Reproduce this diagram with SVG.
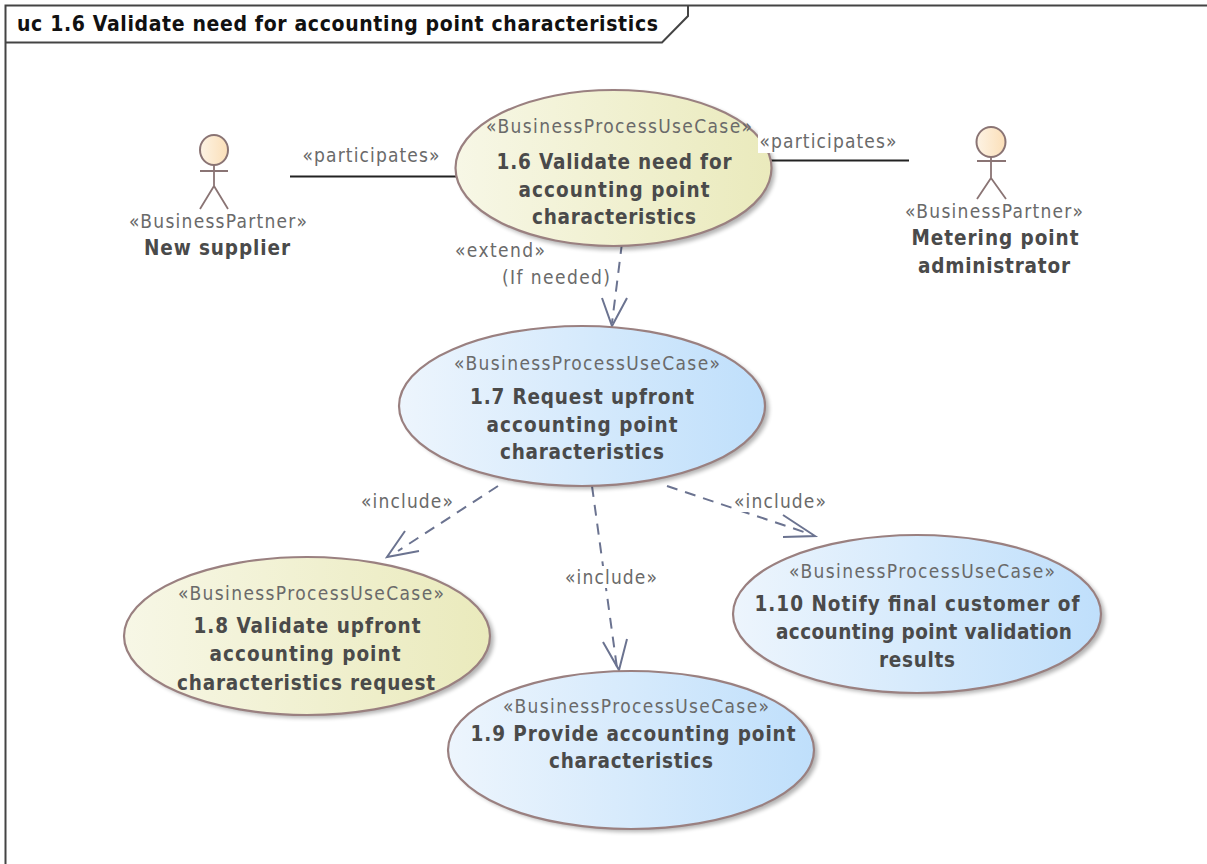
<svg xmlns="http://www.w3.org/2000/svg" width="1207" height="864" viewBox="0 0 1207 864">
<style>
text{font-family:"DejaVu Sans Condensed","DejaVu Sans",sans-serif;text-anchor:middle}
.s{font-size:19px;fill:#6a6a6a}
.b{font-size:20.500px;font-weight:bold;fill:#4a4a4a}
.l{font-size:19px;fill:#6a6a6a}
.t{font-size:21px;font-weight:bold;fill:#111;text-anchor:start}
.e{stroke:#9a8080;stroke-width:2.200}
.sh{fill:#000;opacity:.3;filter:url(#blur)}
.a{fill:none;stroke:#6b7390;stroke-width:2}
.d{stroke-dasharray:11 8}
.p{stroke:#222;stroke-width:2;fill:none}
.act{fill:none;stroke:#8a7474;stroke-width:1.800}
.f{fill:none;stroke:#444;stroke-width:2}
</style>
<defs>
<filter id="blur" x="-10%" y="-10%" width="120%" height="120%"><feGaussianBlur stdDeviation="2"/></filter>
<linearGradient id="y"><stop offset="0" stop-color="#f7f7e6"/><stop offset="1" stop-color="#eaeabc"/></linearGradient>
<linearGradient id="bl"><stop offset="0" stop-color="#edf5fd"/><stop offset="1" stop-color="#bfdffb"/></linearGradient>
<linearGradient id="o"><stop offset="0" stop-color="#fdf3e4"/><stop offset="1" stop-color="#fbdfb8"/></linearGradient>
</defs>
<rect width="1207" height="864" fill="#fff"/>
<g id="frame">
<path class="f" d="M5.500 864V5.500H1207"/>
<path class="f" d="M5.500 42.500H662L688 16V5.500"/>
<text class="t" x="17" y="31" textLength="641">uc 1.6 Validate need for accounting point characteristics</text>
</g>
<g id="connectors">
<path class="p" d="M290 176.500H458"/>
<path class="p" d="M771 160.500H909"/>
<path class="a d" d="M622 243L612 323"/>
<path class="a" d="M602 298L612 326L627 298"/>
<path class="a d" d="M498 486L398 551"/>
<path class="a" d="M405 531L387 557L419 551"/>
<path class="a d" d="M592 486L617 668"/>
<path class="a" d="M603 642L619 670L627 639"/>
<path class="a d" d="M667 486L810 534"/>
<path class="a" d="M783 515L815 536L783 537"/>
<rect x="733" y="490" width="94" height="22" fill="#fff"/>
<rect x="564" y="566" width="94" height="22" fill="#fff"/>
</g>
<g id="uc16">
<ellipse class="sh" cx="617" cy="171" rx="158" ry="79"/>
<ellipse class="e" cx="613.500" cy="168" rx="158" ry="78" fill="url(#y)"/>
<text class="s" x="619" y="133" textLength="266">«BusinessProcessUseCase»</text>
<text class="b" x="614" y="169" textLength="235">1.6 Validate need for</text>
<text class="b" x="614" y="197" textLength="191">accounting point</text>
<text class="b" x="614" y="224" textLength="164">characteristics</text>
</g>
<g id="actor-new-supplier">
<ellipse cx="214" cy="150" rx="14" ry="15" fill="url(#o)" stroke="#8a7474" stroke-width="2"/>
<path class="act" d="M214 165V186M200 171H228M214 186L200 209M214 186L228 209"/>
<text class="s" x="218" y="228" textLength="178">«BusinessPartner»</text>
<text class="b" x="217" y="255" textLength="146">New supplier</text>
</g>
<g id="actor-metering">
<ellipse cx="991" cy="142" rx="14.500" ry="15" fill="url(#o)" stroke="#8a7474" stroke-width="2"/>
<path class="act" d="M991 157V178M977 161H1006M991 178L977 199M991 178L1006 199"/>
<text class="s" x="994" y="218" textLength="178">«BusinessPartner»</text>
<text class="b" x="995" y="245" textLength="167">Metering point</text>
<text class="b" x="994" y="273" textLength="152">administrator</text>
</g>
<g id="uc17">
<ellipse class="sh" cx="586" cy="409" rx="183" ry="80"/>
<ellipse class="e" cx="582" cy="406" rx="183" ry="80" fill="url(#bl)"/>
<text class="s" x="587" y="370" textLength="266">«BusinessProcessUseCase»</text>
<text class="b" x="582" y="404" textLength="224">1.7 Request upfront</text>
<text class="b" x="582" y="432" textLength="191">accounting point</text>
<text class="b" x="582" y="459" textLength="164">characteristics</text>
</g>
<g id="uc18">
<ellipse class="sh" cx="311" cy="639" rx="183" ry="79"/>
<ellipse class="e" cx="307" cy="636" rx="183" ry="79" fill="url(#y)"/>
<text class="s" x="311" y="600" textLength="266">«BusinessProcessUseCase»</text>
<text class="b" x="307" y="633" textLength="227">1.8 Validate upfront</text>
<text class="b" x="305" y="661" textLength="191">accounting point</text>
<text class="b" x="306" y="690" textLength="258">characteristics request</text>
</g>
<g id="uc19">
<ellipse class="sh" cx="635" cy="753" rx="183" ry="79"/>
<ellipse class="e" cx="631" cy="750" rx="183" ry="79" fill="url(#bl)"/>
<text class="s" x="636" y="713" textLength="266">«BusinessProcessUseCase»</text>
<text class="b" x="633" y="741" textLength="325">1.9 Provide accounting point</text>
<text class="b" x="631" y="768" textLength="164">characteristics</text>
</g>
<g id="uc110">
<ellipse class="sh" cx="921" cy="617" rx="184" ry="79"/>
<ellipse class="e" cx="917" cy="614" rx="184" ry="79" fill="url(#bl)"/>
<text class="s" x="922" y="578" textLength="266">«BusinessProcessUseCase»</text>
<text class="b" x="917" y="611" textLength="325">1.10 Notify final customer of</text>
<text class="b" x="924" y="639" textLength="296">accounting point validation</text>
<text class="b" x="917" y="667" textLength="76">results</text>
</g>
<g id="labels">
<rect x="758" y="130" width="141" height="23" fill="#fff"/>
<text class="l" x="371" y="162" textLength="137">«participates»</text>
<text class="l" x="828" y="148" textLength="137">«participates»</text>
<text class="l" x="500" y="257" textLength="90">«extend»</text>
<text class="l" x="556" y="284" textLength="108">(If needed)</text>
<text class="l" x="407" y="508" textLength="92">«include»</text>
<text class="l" x="780" y="508" textLength="92">«include»</text>
<text class="l" x="611" y="584" textLength="92">«include»</text>
</g>
</svg>
